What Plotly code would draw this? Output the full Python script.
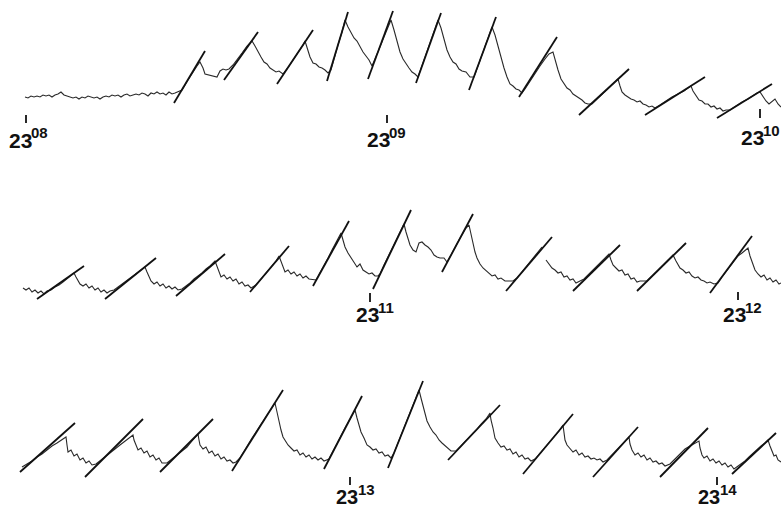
import plotly.graph_objects as go

# ---- recorded traces (time position, deflection) for the three strips ----
row1_points = [
    (25,97),(28,98),(31,96),(34,97),(37,96),(40,97),(43,95),(46,96),(49,95),(52,97),(55,95),(58,94),(61,92),
    (64,95),(67,96),(70,97),(73,98),(76,97),(79,99),(82,97),(85,98),(88,96),(91,97),(94,98),(97,97),(100,99),
    (103,97),(106,96),(109,97),(112,95),(115,96),(118,95),(121,97),(124,95),(127,94),(130,96),(133,95),(136,94),
    (139,95),(142,93),(145,94),(148,96),(151,93),(154,94),(157,92),(160,94),(163,93),(166,95),(169,92),(172,94),
    (175,93),(178,92),
    (182,90),(188,80),(194,70),(197,66),(200,62),
    (203,68),(205,74),(209,75),(213,76),(217,77),(220,71),(223,69),(226,70),(229,69),
    (233,65),(237,60),(242,53),(247,46),(252,41),
    (255,46),(258,52),(261,57),(264,62),(267,64),(270,68),(273,70),(276,72),(279,71),(283,74),
    (289,66),(295,57),(300,50),(303,45),(305,41),
    (307,48),(310,57),(313,63),(316,64),(319,67),(322,68),(325,70),(328,73),
    (331,70),(334,58),(338,45),(342,32),(345,20),
    (348,27),(351,33),(354,38),(357,41),(360,47),(363,52),(366,56),(369,60),(372,66),
    (376,57),(380,47),(384,37),(388,27),(391,20),
    (394,30),(397,42),(400,52),(403,59),(406,64),(409,68),(412,72),(415,74),(418,77),
    (422,66),(426,55),(430,44),(434,33),(438,20),
    (441,28),(444,40),(447,50),(450,57),(453,62),(456,64),(459,69),(462,71),(466,72),(470,77),
    (474,77),(478,66),(482,55),(486,45),(489,36),(492,27),
    (495,35),(498,47),(501,58),(504,68),(507,77),(510,84),(513,86),(516,89),(519,90),(522,93),(525,89),
    (530,81),(535,73),(540,66),(545,59),(549,54),(553,52),
    (555,60),(558,70),(561,79),(564,84),(567,88),(570,90),(573,94),(576,96),(579,98),(582,100),(585,103),
    (588,104),(592,104),
    (597,99),(602,94),(607,89),(612,84),(615,81),(618,79),
    (620,86),(622,92),(625,95),(628,97),(631,99),(634,100),(637,102),(640,101),(643,104),(646,105),(649,107),
    (652,106),(655,108),
    (660,105),(666,101),(672,97),(678,94),(684,91),(688,88),(691,86),
    (693,91),(696,96),(699,100),(702,101),(705,104),(708,104),(711,107),(714,106),(717,109),(720,108),
    (723,111),(726,110),(730,110),
    (736,106),(742,102),(748,99),(754,95),(757,93),(760,92),
    (763,97),(766,101),(769,104),(772,101),(775,99),(778,104),(781,107),
]

row2_points = [
    (23,288),(26,290),(29,288),(32,292),(35,290),(38,293),(41,291),(44,294),(47,291),(51,290),(55,287),(59,285),
    (63,282),(67,279),(71,276),(74,273),
    (76,277),(78,281),(80,284),(83,286),(86,284),(89,288),(92,286),(95,290),(98,288),(101,292),(104,290),
    (107,293),(110,291),
    (114,290),(118,287),(122,284),(126,281),(130,278),(134,275),(138,272),(142,269),(145,267),
    (147,272),(149,277),(151,281),(154,284),(157,282),(160,286),(163,284),(166,288),(169,286),(172,289),
    (175,287),(178,290),
    (182,289),(186,286),(190,283),(194,279),(198,276),(202,273),(206,269),(210,266),(215,261),
    (217,267),(219,273),(221,277),(224,275),(227,279),(230,277),(233,281),(236,279),(239,284),(242,282),
    (245,286),(248,285),(251,288),
    (256,285),(260,280),(264,276),(268,271),(272,266),(276,261),(279,256),
    (281,262),(283,267),(285,272),(288,270),(291,274),(294,272),(297,276),(300,274),(303,278),(306,276),
    (309,279),
    (316,280),(320,273),(324,266),(328,258),(332,250),(336,243),(339,237),(341,233),
    (343,240),(345,247),(348,253),(351,258),(354,263),(357,267),(360,264),(363,270),(366,272),(369,274),
    (372,273),(375,276),(378,276),
    (380,274),(384,265),(388,257),(392,249),(396,240),(400,232),(404,224),
    (406,232),(408,240),(410,245),(413,250),(416,252),
    (419,243),(422,242),(425,245),(428,247),(431,250),(434,255),(437,257),(440,258),(444,258),(447,262),
    (451,255),(455,247),(459,240),(463,233),(466,228),(469,225),
    (471,235),(473,245),(475,252),(477,258),(480,264),(483,268),(486,271),(489,273),(492,276),(495,275),
    (498,279),(501,278),(505,281),(509,281),(513,281),
    (517,278),(521,273),(525,269),(529,264),(533,259),(537,254),(542,247),
    (None,None),
    (546,260),(549,264),(552,268),(555,270),(558,273),(561,272),(564,277),(567,276),(570,280),(573,279),
    (576,283),(580,281),
    (584,279),(588,275),(592,271),(596,267),(600,263),(604,259),(609,254),
    (611,260),(613,265),(616,268),(619,271),(622,270),(625,275),(628,274),(631,279),(634,278),(637,282),
    (640,281),(643,281),
    (647,281),(651,277),(655,273),(659,269),(663,265),(667,261),(670,258),(673,255),
    (676,261),(678,265),(680,268),(683,270),(686,273),(689,272),(692,276),(695,278),(698,277),(701,280),
    (704,281),(707,283),(710,282),(714,284),(718,283),
    (722,277),(726,272),(730,266),(734,261),(738,256),(742,253),(745,250),(748,248),
    (750,256),(752,262),(755,270),(758,274),(761,277),(764,275),(767,280),(770,278),(773,282),(776,280),
    (779,284),(781,283),
]

row3_points = [
    (22,467),(27,464),(32,461),(37,457),(42,454),(47,450),(52,446),(57,443),(62,440),(66,437),
    (67,445),(68,452),(71,450),(74,456),(77,454),(80,460),(83,458),(86,463),(89,461),(92,465),
    (96,464),(100,461),(105,457),(110,453),(115,449),(120,445),(125,441),(129,438),(133,435),
    (134,440),(136,446),(138,450),(141,448),(144,453),(147,451),(150,457),(153,455),(156,460),(159,458),
    (162,463),
    (167,463),(172,459),(177,455),(182,451),(187,447),(192,441),(196,437),(198,434),
    (199,440),(200,445),(203,449),(206,447),(209,453),(212,451),(215,456),(218,454),(221,459),(224,457),
    (227,461),(230,460),(233,463),(236,462),
    (240,458),(244,451),(248,445),(252,438),(256,432),(260,426),(264,420),(268,414),(272,408),(275,403),
    (277,412),(279,422),(281,430),(283,437),(285,440),(288,445),(291,448),(294,451),(297,450),(300,455),
    (303,453),(306,457),(309,455),(312,459),(315,457),(318,460),(321,458),(324,461),
    (329,459),(333,451),(337,443),(341,436),(345,428),(349,421),(352,415),(355,410),
    (357,418),(359,426),(361,432),(364,438),(367,445),(370,447),(373,450),(376,449),(379,453),(382,452),
    (385,456),(388,455),(391,458),
    (394,453),(398,443),(402,433),(406,423),(410,413),(414,403),(417,396),(419,390),
    (421,398),(423,406),(425,414),(427,421),(430,427),(433,432),(436,435),(439,440),(442,443),(445,446),
    (448,448),(451,451),
    (456,451),(461,446),(466,441),(471,435),(476,430),(481,424),(486,419),(490,413),
    (491,420),(493,428),(495,438),(498,443),(501,447),(504,446),(507,450),(510,449),(513,454),(516,452),
    (519,457),(522,455),(525,459),(528,458),(531,461),
    (535,459),(540,453),(545,447),(550,441),(555,435),(559,431),(563,425),
    (564,432),(565,440),(567,445),(570,448),(573,452),(576,450),(579,455),(582,453),(585,457),(588,456),
    (591,459),(594,458),(597,460),(600,459),(603,462),
    (607,460),(611,456),(615,451),(619,447),(623,443),(626,440),(629,437),
    (630,444),(632,450),(635,455),(638,453),(641,457),(644,455),(647,460),(650,458),(653,462),(656,461),
    (659,464),(662,463),(665,466),
    (670,464),(675,459),(680,454),(685,449),(690,446),(695,443),(699,441),
    (700,448),(702,455),(704,458),(707,456),(710,461),(713,459),(716,463),(719,461),(722,465),(725,463),
    (728,467),(731,465),(734,469),(737,467),
    (741,464),(745,461),(749,457),(753,453),(757,450),(761,446),(765,443),(768,440),
    (770,446),(772,452),(774,456),(776,455),(778,460),(781,462),
]

# ---- fitted tangent lines on the rising phases: (x0, y0, x1, y1) ----
row1_tangents = [(174,103,205,51),(224,80,258,32),(277,84,313,30),(327,81,348,12),(368,79,393,11),
                 (416,83,441,13),(469,90,496,17),(519,97,557,37),(579,115,629,69),(645,115,705,77),
                 (717,118,772,84)]
row2_tangents = [(37,299,84,266),(105,299,156,258),(176,296,225,254),(250,292,289,246),(313,286,349,221),
                 (373,289,411,210),(442,272,473,214),(506,291,552,237),(573,291,620,245),(637,291,686,243),
                 (710,293,752,236)]
row3_tangents = [(20,472,75,423),(85,477,143,419),(160,472,213,419),(232,471,283,390),(324,469,362,396),
                 (388,468,423,381),(448,460,500,405),(523,474,573,414),(593,477,638,427),(660,477,708,428),
                 (732,474,776,433)]

# ---- minute marks: hour, minute, tick position, tick top, tick bottom ----
mark_hour = ["23", "23", "23", "23", "23", "23", "23"]
mark_minute = ["08", "09", "10", "11", "12", "13", "14"]
mark_x = [26, 387, 760, 370, 738, 350, 717]
mark_top = [115, 115, 109, 293, 292, 477, 477]
mark_bottom = [123, 123, 118, 302, 300, 485, 485]
label_left = [8, 366, 740, 355, 722, 335, 697]
label_mid = [140, 139.5, 137.5, 314.5, 314.5, 496.5, 496.5]
label_size = [21, 21, 21, 21, 21, 20, 20]

INK = "#111111"

fig = go.Figure()

for pts in (row1_points, row2_points, row3_points):
    fig.add_trace(go.Scatter(
        x=[p[0] for p in pts], y=[p[1] for p in pts], mode="lines",
        line=dict(color="#2a2a2a", width=1.1), connectgaps=False, hoverinfo="skip"))

for segs in (row1_tangents, row2_tangents, row3_tangents):
    xs, ys = [], []
    for x0, y0, x1, y1 in segs:
        xs += [x0, x1, None]
        ys += [y0, y1, None]
    fig.add_trace(go.Scatter(x=xs, y=ys, mode="lines",
                             line=dict(color=INK, width=1.8), hoverinfo="skip"))

tx, ty = [], []
for x, t, b in zip(mark_x, mark_top, mark_bottom):
    tx += [x, x, None]
    ty += [t, b, None]
fig.add_trace(go.Scatter(x=tx, y=ty, mode="lines", line=dict(color=INK, width=1.8), hoverinfo="skip"))

FONT = "Liberation Sans, Arial, sans-serif"
for h, m, lx, my, fs in zip(mark_hour, mark_minute, label_left, label_mid, label_size):
    fig.add_annotation(x=lx, y=my, text=f"<b>{h}</b>", showarrow=False,
                       xanchor="left", yanchor="middle", borderpad=0,
                       font=dict(family=FONT, size=fs, color=INK))
    fig.add_annotation(x=lx + 22, y=my - 7.5, text=f"<b>{m}</b>", showarrow=False,
                       xanchor="left", yanchor="middle", borderpad=0,
                       font=dict(family=FONT, size=15, color=INK))

fig.update_layout(
    width=781, height=507, margin=dict(l=0, r=0, t=0, b=0),
    paper_bgcolor="white", plot_bgcolor="white", showlegend=False,
    xaxis=dict(range=[0, 781], visible=False, fixedrange=True),
    yaxis=dict(range=[507, 0], visible=False, fixedrange=True),
)

fig.write_html("out.html", config={"displayModeBar": False},
               post_script="document.body.style.margin='0';document.body.style.padding='0';")
